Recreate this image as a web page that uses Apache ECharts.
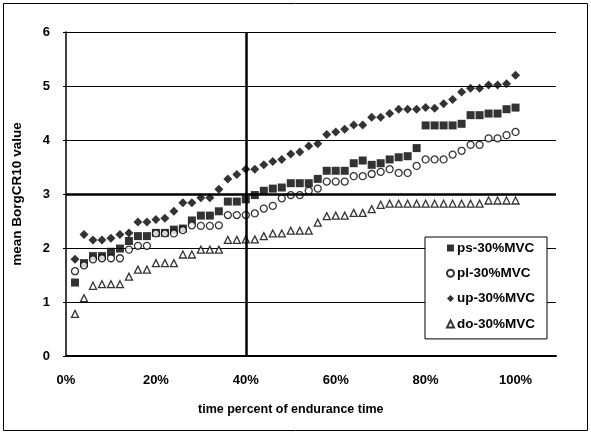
<!DOCTYPE html>
<html>
<head>
<meta charset="utf-8">
<style>
html,body{margin:0;padding:0;background:#fff;}
#chart{width:591px;height:434px;}
</style>
<script src="https://cdn.jsdelivr.net/npm/echarts@6/dist/echarts.min.js"></script>
</head>
<body>
<div id="chart"></div>
<script>
// time percent (2% steps)
const timePct = [2,4,6,8,10,12,14,16,18,20,22,24,26,28,30,32,34,36,38,40,42,44,46,48,50,52,54,56,58,60,62,64,66,68,70,72,74,76,78,80,82,84,86,88,90,92,94,96,98,100];
const psValues = [1.36,1.72,1.85,1.85,1.93,1.99,2.13,2.22,2.22,2.28,2.28,2.34,2.36,2.51,2.6,2.6,2.68,2.86,2.86,2.9,2.98,3.06,3.1,3.12,3.2,3.2,3.2,3.28,3.43,3.43,3.43,3.57,3.62,3.54,3.57,3.64,3.68,3.7,3.85,4.27,4.27,4.27,4.27,4.3,4.46,4.46,4.49,4.49,4.57,4.6];
const plValues = [1.57,1.68,1.79,1.81,1.81,1.81,1.97,2.04,2.04,2.27,2.27,2.27,2.33,2.42,2.41,2.41,2.42,2.61,2.61,2.61,2.64,2.73,2.78,2.92,2.98,2.98,3.06,3.1,3.23,3.23,3.23,3.33,3.33,3.37,3.41,3.46,3.39,3.39,3.52,3.64,3.64,3.64,3.73,3.8,3.91,3.91,4.03,4.03,4.09,4.15];
const upValues = [1.79,2.25,2.15,2.15,2.18,2.25,2.28,2.48,2.48,2.53,2.55,2.68,2.84,2.84,2.93,2.93,3.09,3.28,3.36,3.46,3.46,3.54,3.6,3.64,3.74,3.78,3.89,3.93,4.1,4.15,4.2,4.28,4.28,4.42,4.42,4.49,4.57,4.57,4.57,4.6,4.59,4.67,4.75,4.89,4.96,4.96,5.02,5.02,5.04,5.2];
const doValues = [0.78,1.07,1.3,1.33,1.33,1.33,1.47,1.6,1.6,1.72,1.72,1.72,1.88,1.88,1.97,1.97,1.97,2.15,2.15,2.16,2.16,2.22,2.27,2.27,2.32,2.32,2.32,2.47,2.59,2.6,2.6,2.65,2.65,2.72,2.8,2.82,2.82,2.82,2.82,2.82,2.82,2.82,2.82,2.82,2.82,2.82,2.88,2.88,2.88,2.88];
const seriesNames = ['ps-30%MVC','pl-30%MVC','up-30%MVC','do-30%MVC'];
const xTicks = [0,20,40,60,80,100];
const yTicks = [0,1,2,3,4,5,6];
const refX = 40;  // vertical reference line
const refY = 3;   // horizontal reference line
const xTitle = 'time percent of endurance time';
const yTitle = 'mean BorgCR10 value';

const FONT = 'Arial, "Liberation Sans", sans-serif';
const pair = vals => timePct.map((t, i) => [t, vals[i]]);

const chart = echarts.init(document.getElementById('chart'), null, {renderer: 'canvas'});
const mk = (name, vals, symbol, filled, size) => ({
  name: name, type: 'scatter', data: pair(vals), symbol: symbol, symbolSize: size,
  itemStyle: filled ? {color: '#000'} : {color: '#fff', borderColor: '#000', borderWidth: 1.3},
  z: 3
});
const s1 = mk(seriesNames[0], psValues, 'rect', true, 8);
s1.markLine = {
  silent: true, symbol: 'none', label: {show: false},
  lineStyle: {color: '#000', width: 2.5, type: 'solid'},
  data: [{xAxis: refX}, {yAxis: refY}]
};
const option = {
  animation: false,
  backgroundColor: '#fff',
  grid: {left: 66, top: 32, width: 490, height: 324},
  xAxis: {
    type: 'value', min: 0, max: 109, interval: 20,
    axisLine: {show: true, lineStyle: {color: '#000', width: 2}},
    axisTick: {show: false},
    splitLine: {show: false},
    axisLabel: {
      margin: 18, color: '#000', fontFamily: FONT, fontWeight: 'bold', fontSize: 13,
      showMaxLabel: false,
      formatter: v => xTicks.indexOf(v) >= 0 ? v + '%' : ''
    }
  },
  yAxis: {
    type: 'value', min: 0, max: 6, interval: 1,
    name: yTitle, nameLocation: 'middle', nameGap: 42,
    nameTextStyle: {color: '#000', fontFamily: FONT, fontWeight: 'bold', fontSize: 13.5},
    axisLine: {show: true, lineStyle: {color: '#000', width: 1.5}},
    axisTick: {show: true, length: 3, lineStyle: {color: '#000'}},
    splitLine: {show: true, lineStyle: {color: '#000', width: 1}},
    axisLabel: {
      margin: 16, color: '#000', fontFamily: FONT, fontWeight: 'bold', fontSize: 13,
      formatter: v => yTicks.indexOf(v) >= 0 ? String(v) : ''
    }
  },
  legend: {
    orient: 'vertical', left: 425, top: 237,
    padding: [4, 12, 8, 21],
    backgroundColor: '#fff', borderColor: '#000', borderWidth: 1,
    itemWidth: 7, itemHeight: 7, itemGap: 11.3,
    textStyle: {color: '#000', fontFamily: FONT, fontWeight: 'bold', fontSize: 13.5, lineHeight: 12, padding: [0, 0, 0, -2]},
    data: seriesNames
  },
  series: [
    s1,
    mk(seriesNames[1], plValues, 'circle', false, 7),
    mk(seriesNames[2], upValues, 'diamond', true, 9),
    mk(seriesNames[3], doValues, 'triangle', false, 7)
  ]
};
chart.setOption(option);
// x-axis title centred under the 0%-100% span, plus outer frame
const px0 = chart.convertToPixel({xAxisIndex: 0}, xTicks[0]);
const px100 = chart.convertToPixel({xAxisIndex: 0}, xTicks[xTicks.length - 1]);
chart.setOption({
  graphic: [
    {type: 'rect', shape: {x: 3.5, y: 3.5, width: 584, height: 427},
     style: {fill: 'none', stroke: '#000', lineWidth: 1}, silent: true, z: -1},
    {type: 'text', x: (px0 + px100) / 2, y: 403,
     style: {text: xTitle, fill: '#000', font: 'bold 12.5px ' + FONT, align: 'center'}}
  ]
});
</script>
</body>
</html>
